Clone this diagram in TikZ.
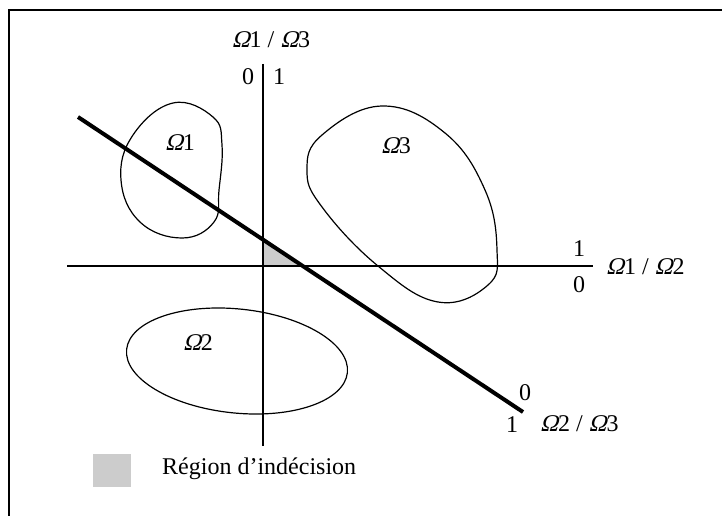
\documentclass[tikz,border=0pt]{standalone}
\usepackage{fontspec}
\setmainfont{Liberation Serif}
\newfontfamily\omf{Liberation Serif}[FakeSlant=0.25]
\newcommand{\Om}{{\omf Ω}}
\begin{document}
\begin{tikzpicture}[x=1pt,y=-1pt,
  lbl/.style={inner sep=0pt,font=\fontsize{24}{28}\selectfont},
  blob/.style={line width=1.2pt},
  axis/.style={line width=2.2pt},
  sep/.style={line width=4pt}]
\useasboundingbox (0,0) rectangle (722,516);
\draw[line width=1.5pt] (9,516) -- (9,10) -- (722,10);
% shaded region
\fill[gray!40] (262,239) -- (262,266) -- (303,266) -- cycle;
% blobs
\draw[blob] plot[smooth cycle,tension=0.7] coordinates {(173,103) (213,117) (222,145) (219,190) (214,222) (182,238) (140,222) (121,180) (133,135)};
\draw[blob] plot[smooth cycle,tension=0.7] coordinates {(382,106) (445,133) (485,190) (497,250) (488,285) (438,302) (378,266) (322,207) (307,170) (322,135)};
\draw[blob,rotate around={-6:(237,361)}] (237,361) ellipse (111 and 52);
% axes
\coordinate (vt) at (263,64);
\coordinate (vb) at (263,446);
\coordinate (hl) at (67,266);
\coordinate (hr) at (593,266);
\coordinate (ds) at (78,117);
\coordinate (de) at (523,412);
\draw[axis] (vt) -- (vb);
\draw[axis] (hl) -- (hr);
\draw[sep] (ds) -- (de);
% labels
\node[lbl] (o1) at (180,143) {\Om1};
\node[lbl] (o3) at (396,146) {\Om3};
\node[lbl] (o2) at (198,343) {\Om2};
\node[lbl] (t13) at (271,40) {\Om1 / \Om3};
\node[lbl] (z1) at (248,77) {0};
\node[lbl] (u1) at (279,77) {1};
\node[lbl] (u2) at (579,249) {1};
\node[lbl] (z2) at (579,285) {0};
\node[lbl,anchor=west] (t12) at (606,267) {\Om1 / \Om2};
\node[lbl] (z3) at (525,393) {0};
\node[lbl] (u3) at (512,425) {1};
\node[lbl,anchor=west] (t23) at (540,424) {\Om2 / \Om3};
\fill[gray!40] (93,454) rectangle (131,487);
\node[lbl,anchor=west] (leg) at (162,469) {Région d’indécision};
\end{tikzpicture}
\end{document}
